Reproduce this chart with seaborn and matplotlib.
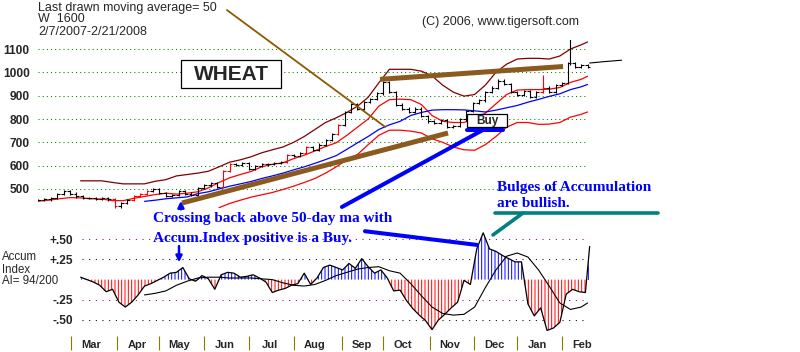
import numpy as np
import pandas as pd
import matplotlib
matplotlib.use("Agg")
import matplotlib.pyplot as plt
import seaborn as sns
from matplotlib.patches import Rectangle

sns.set_style("white")
plt.rcParams['font.family'] = ['Liberation Sans', 'DejaVu Sans']
plt.rcParams['hatch.linewidth'] = 0.7

# x = trading session since 2/7/2007
close_days = list(range(0, 259, 3))
close = [452, 455, 462, 478, 492, 480, 468, 462, 460, 458,
         462, 455, 425, 440, 452, 470, 478, 490, 500, 482,
         470, 475, 490, 480, 475, 505, 515, 525, 510, 578,
         605, 602, 610, 585, 598, 605, 608, 612, 615, 645,
         640, 655, 680, 668, 690, 710, 735, 775, 830, 865,
         845, 872, 885, 910, 958, 915, 862, 845, 830, 845,
         812, 790, 785, 795, 765, 770, 798, 835, 870, 880,
         915, 935, 965, 950, 915, 905, 920, 895, 915, 935,
         915, 945, 955, 1040, 1025, 1030, 1025]
red_days = [36, 45, 48, 51, 87, 90, 117, 126, 141, 237]
wick_days = [237, 250]
wick_lo = [917, 1030]
wick_hi = [987, 1148]

nan = np.nan
line_days = list(range(0, 256, 5)) + [258]
upper_band = [nan] * 4 + [
    535, 535, 535, 528, 522, 522, 522, 533, 540, 556,
    562, 568, 576, 595, 615, 625, 638, 655, 668, 680,
    700, 725, 755, 785, 805, 828, 855, 893, 955, 1013,
    1013, 1013, 1005, 985, 945, 915, 898, 905, 945, 1000,
    1035, 1057, 1060, 1060, 1057, 1070, 1100, 1118, 1130]
ma_short = [448, 452, 458, 463, 462, 458, 457, 450, 450, 460,
            468, 476, 482, 478, 482, 488, 505, 528, 548, 562,
            575, 595, 606, 612, 630, 645, 663, 682, 698, 730,
            765, 800, 855, 883, 885, 883, 862, 815, 790, 785,
            785, 802, 825, 865, 905, 924, 926, 926, 928, 935,
            957, 970, 983]
lower_band = [nan] * 17 + [
    420, 438, 452, 465, 475, 485, 498, 512, 528, 545,
    568, 595, 625, 648, 690, 730, 752, 752, 748, 740,
    715, 700, 680, 668, 666, 690, 725, 765, 785, 785,
    777, 778, 785, 808, 820, 830]
ma50 = [nan] * 10 + [
    447, 452, 458, 462, 466, 480, 488, 500, 512, 522,
    532, 545, 556, 568, 582, 595, 610, 626, 643, 670,
    698, 725, 755, 775, 790, 815, 828, 838, 840, 840,
    839, 835, 830, 838, 848, 858, 872, 884, 897, 908,
    926, 938, 948]
accum_ma = [nan] * 10 + [
    -0.19, -0.17, -0.14, -0.07, -0.02, 0.02, 0.03, 0.03, 0.02, 0.02,
    0.02, 0.01, 0.00, -0.04, -0.07, -0.08, -0.06, -0.01, 0.05, 0.09,
    0.13, 0.15, 0.16, 0.11, 0.08, -0.05, -0.20, -0.34, -0.42, -0.44,
    -0.43, -0.34, -0.10, 0.12, 0.29, 0.33, 0.28, 0.12, -0.08, -0.29,
    -0.37, -0.34, -0.29]

accum_days = list(range(20, 258, 3)) + [259]
accum = [0.03, 0.00, -0.03, -0.07, -0.15, -0.12, -0.28, -0.34, -0.28, -0.19,
         -0.08, -0.05, -0.01, 0.03, 0.08, 0.09, 0.15, 0.01, -0.02, 0.05,
         0.01, -0.12, 0.06, 0.09, 0.08, 0.03, 0.04, 0.06, 0.02, -0.03,
         -0.16, -0.13, -0.11, -0.07, -0.05, 0.08, -0.06, 0.02, 0.15, 0.18,
         0.15, 0.12, 0.20, 0.14, 0.26, 0.16, 0.08, 0.12, 0.02, -0.14,
         -0.13, -0.26, -0.36, -0.44, -0.51, -0.62, -0.50, -0.43, -0.35, -0.28,
         -0.01, -0.06, 0.38, 0.58, 0.38, 0.35, 0.30, 0.26, 0.22, 0.22,
         -0.30, -0.45, -0.35, -0.63, -0.60, -0.53, -0.18, -0.12, -0.15, -0.16,
         0.41]

price_ticks = [500, 600, 700, 800, 900, 1000, 1100]
accum_levels = [0.50, 0.25, -0.25, -0.50]
accum_labels = ['+.50', '+.25', '-.25', '-.50']
month_start = [15.3, 37.2, 56.9, 78.0, 99.2, 120.2, 142.6, 161.8, 184.0, 204.7, 225.0, 245.9]
month_names = ['Mar', 'Apr', 'May', 'Jun', 'Jul', 'Aug', 'Sep', 'Oct', 'Nov', 'Dec', 'Jan', 'Feb']

# hand-drawn trend lines (session, price)
trend_low = ([67.6, 192.5], [440, 740])
trend_high = ([160.6, 246.5], [970, 1025])
trend_thin = ([88.7, 163.0], [1267, 766])

W, H = 800, 352
fig = plt.figure(figsize=(8, 3.52), dpi=100)


def box(l, t, r, b):
    return [l / W, 1 - b / H, (r - l) / W, (b - t) / H]


ax = fig.add_axes(box(38, 40, 592, 212))
ax2 = fig.add_axes(box(38, 230, 592, 336))
for a in (ax, ax2):
    a.set_facecolor('none')
    sns.despine(ax=a, left=True, bottom=True)

# ---- price panel
ax.set_xlim(0, 260.1)
ax.set_ylim(401.4, 1138.6)
ax.hlines(price_ticks, 0, 258, colors='#008000', linestyles=(0, (1, 3)), lw=0.75, zorder=1)

bands = pd.DataFrame({'day': line_days, 'upper': upper_band, 'short': ma_short,
                      'lower': lower_band, 'ma50': ma50})
long = bands.melt(id_vars='day', var_name='line', value_name='price').dropna()
sns.lineplot(data=long, x='day', y='price', hue='line', units='line', estimator=None,
             palette={'upper': '#800000', 'short': '#FF0000', 'lower': '#FF0000', 'ma50': '#0000FF'},
             lw=0.9, legend=False, ax=ax, zorder=2)

d = np.array(close_days, float)
c = np.array(close, float)
prev = np.r_[c[0], c[:-1]]
cols = ['#FF0000' if x in red_days else 'black' for x in close_days]
ax.vlines(d, np.minimum(prev, c) - 5, np.maximum(prev, c) + 5, colors=cols, lw=0.8, zorder=3)
ax.hlines(c, d, d + 1.3, colors=cols, lw=0.8, zorder=3)
ax.hlines(prev, d - 1.3, d, colors=cols, lw=0.8, zorder=3)
ax.vlines(wick_days, wick_lo, wick_hi, colors=['#FF0000', 'black'], lw=0.8, zorder=3)
ax.plot([259, 266, 274], [1040, 1046, 1052], color='black', lw=0.8, clip_on=False)

brown = '#8B5A1E'
ax.plot(*trend_low, color=brown, lw=3.6, solid_capstyle='butt', zorder=4)
ax.plot(*trend_high, color=brown, lw=3.6, solid_capstyle='butt', zorder=4)
ax.plot(*trend_thin, color='#8B5A00', lw=1.3, clip_on=False, zorder=4)

ax.plot([142.7, 208.9], [423, 753], color='#0000FF', lw=2.9, clip_on=False, zorder=5)
ax.plot([201.4, 218.3], [753, 753], color='#0000FF', lw=2.9, zorder=5)
ax.annotate('', xy=(67.1, 461), xytext=(67.1, 401), annotation_clip=False,
            arrowprops=dict(arrowstyle='-|>', color='#0000FF', lw=1.8, mutation_scale=9))
ax.plot([214.6, 291.0], [397, 397], color='#008080', lw=2.6, clip_on=False, zorder=5)
ax.plot([227.7, 213.6], [397, 303], color='#008080', lw=2.6, clip_on=False, zorder=5)

ax.set_xticks([])
ax.set_yticks(price_ticks, [str(t) for t in price_ticks])
ax.tick_params(axis='y', left=False, pad=2.5, labelsize=8.6)
for t in ax.get_yticklabels():
    t.set_fontweight('bold')
ax.set_xlabel('')
ax.set_ylabel('')

# ---- accumulation panel
ax2.set_xlim(0, 260.1)
ax2.set_ylim(-0.699, 0.615)
ax2.hlines(accum_levels, 20.7, 258, colors=['#800080', 'black', '#800080', 'black'],
           linestyles=(0, (1, 5.4)), lw=0.75, zorder=1)
ad = np.array(accum_days, float)
av = np.array(accum, float)
ax2.fill_between(ad, 0, av, where=av >= 0, interpolate=True, facecolor='white',
                 edgecolor='#0000FF', hatch='|||||', linewidth=0, zorder=2)
ax2.fill_between(ad, 0, av, where=av <= 0, interpolate=True, facecolor='white',
                 edgecolor='#FF0000', hatch='|||||', linewidth=0, zorder=2)
sns.lineplot(x=ad, y=av, color='black', lw=0.9, estimator=None, ax=ax2, zorder=3)
ma_df = pd.DataFrame({'day': line_days, 'ma': accum_ma}).dropna()
sns.lineplot(data=ma_df, x='day', y='ma', color='black', lw=0.8, estimator=None, ax=ax2, zorder=3)

ax2.plot([153.5, 206.1], [0.60, 0.43], color='#0000FF', lw=2.9, clip_on=False, zorder=5)
ax2.annotate('', xy=(66.2, 0.18), xytext=(66.2, 0.45), annotation_clip=False,
             arrowprops=dict(arrowstyle='-|>', color='#0000FF', lw=1.8, mutation_scale=9))

ax2.set_yticks(accum_levels, accum_labels)
ax2.tick_params(axis='y', left=False, pad=-29, labelsize=8.6)
for t in ax2.get_yticklabels():
    t.set_fontweight('bold')
ax2.set_xticks(month_start, [''] * len(month_start))
ax2.set_xticks([m + 9.5 for m in month_start], month_names, minor=True)
ax2.tick_params(axis='x', which='major', bottom=True, direction='out', length=10,
                width=0.8, color='#808000')
ax2.tick_params(axis='x', which='minor', bottom=True, length=0, pad=3.2, labelsize=8)
for t in ax2.get_xticklabels(minor=True):
    t.set_fontweight('bold')
ax2.set_xlabel('')
ax2.set_ylabel('')

# ---- overlay texts (pixel coordinates; multiline texts sit on their last baseline)
ov = fig.add_axes([0, 0, 1, 1], zorder=10)
ov.set_xlim(0, W)
ov.set_ylim(H, 0)
ov.axis('off')

hdr = dict(fontsize=9, va='baseline')
ov.text(38, 11, 'Last drawn moving average= 50', **hdr)
ov.text(38, 35, 'W  1600\n2/7/2007-2/21/2008', linespacing=1.08, **hdr)
ov.text(422, 25, '(C) 2006, www.tigersoft.com', **hdr)

ov.add_patch(Rectangle((181, 60), 100, 28, facecolor='white', edgecolor='black', lw=0.9))
ov.text(231, 74.5, 'WHEAT', fontsize=15, fontweight='bold', ha='center', va='center')
ov.add_patch(Rectangle((467, 114), 40, 13, facecolor='white', edgecolor='black', lw=0.9))
ov.text(487, 121, 'Buy', fontsize=8.5, fontweight='bold', ha='center', va='center')

note = dict(fontsize=11, fontweight='bold', color='#0000FF', va='baseline',
            family=['Liberation Serif', 'DejaVu Serif'])
ov.text(153, 222, 'Crossing back above 50-day ma with', **note)
ov.text(153, 242, 'Accum.Index positive is a Buy.', **note)
ov.text(497, 207, 'Bulges of Accumulation\nare bullish.', linespacing=1.3, **note)

ov.text(2, 273, 'Accum\nIndex', fontsize=8.3, va='baseline', linespacing=1.12)
ov.text(2, 284.5, 'AI= 94/200', fontsize=8.3, va='baseline')

fig.savefig('out.png', dpi=100)
